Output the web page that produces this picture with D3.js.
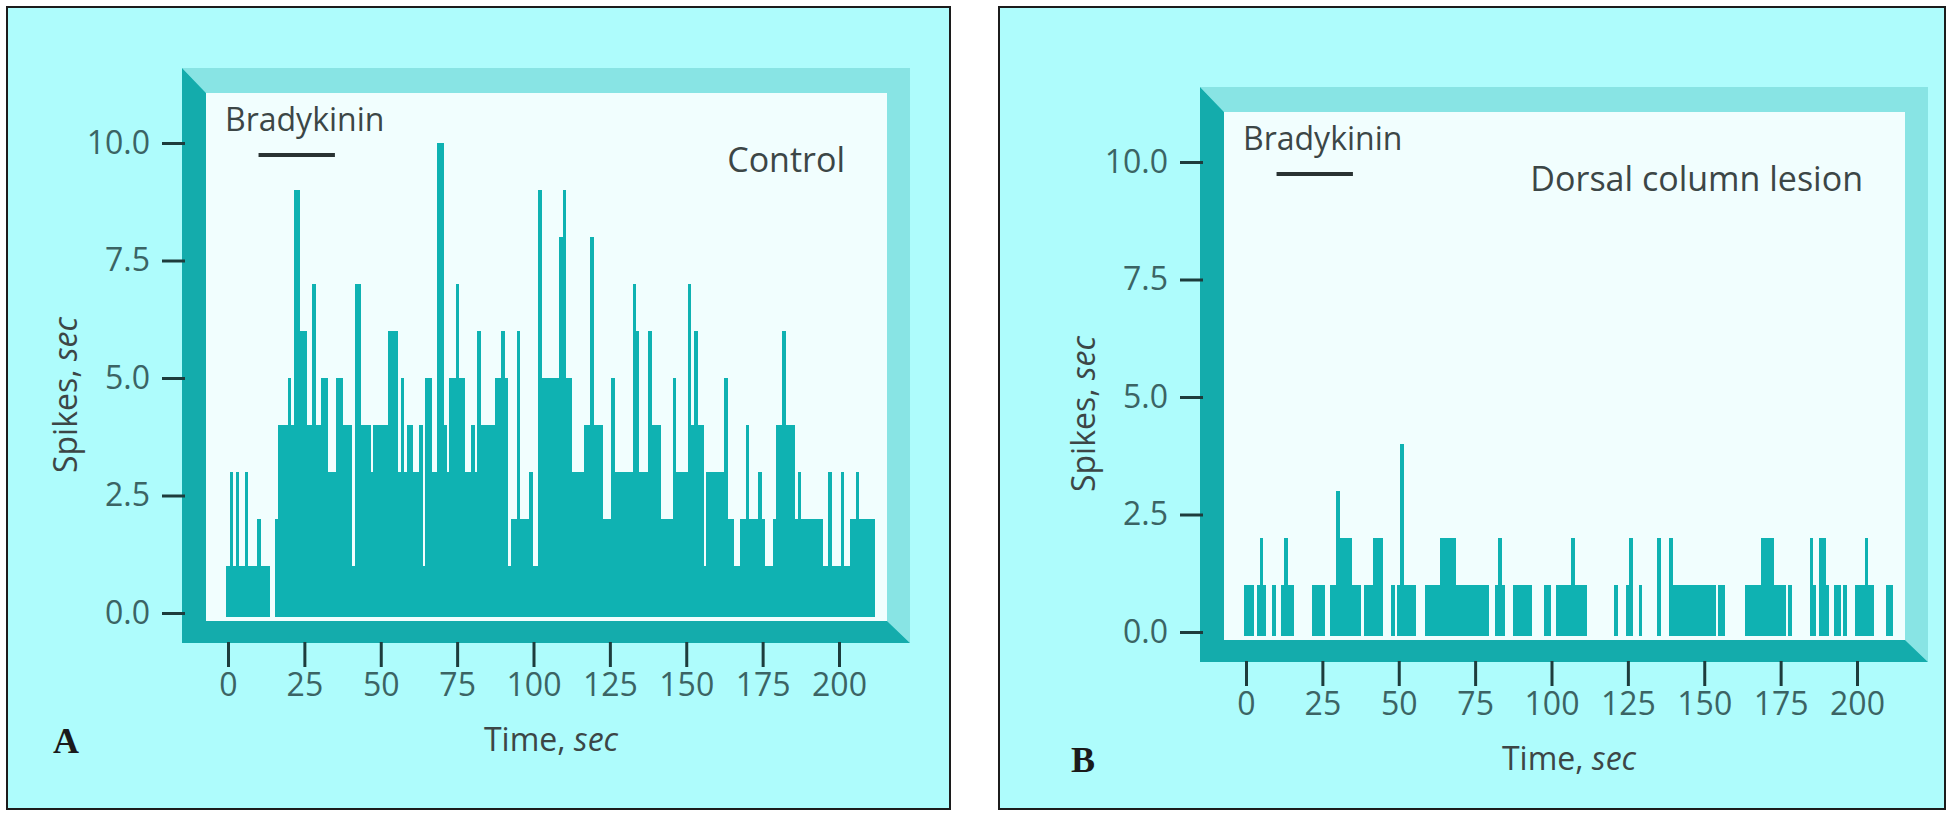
<!DOCTYPE html>
<html><head><meta charset="utf-8">
<script src="https://cdn.jsdelivr.net/npm/d3@7"></script>
<style>body{margin:0;background:#fff}svg{display:block}</style>
</head><body>
<script>
// ---- data (1-s bins, spikes per second), t = 0 .. 211 s ----
const controlSpikes = [
 1,3,1,3,1,1,3,1,1,1,
 2,1,1,1,0,0,2,4,4,4,
 5,4,9,9,6,6,4,4,7,4,
 4,5,5,3,3,3,5,5,4,4,
 4,1,7,7,4,4,4,3,4,4,
 4,4,4,6,6,6,3,5,3,4,
 4,3,3,4,1,5,5,3,3,10,
 10,4,3,5,5,7,5,5,3,3,
 4,3,6,4,4,4,4,4,5,5,
 6,5,1,2,2,6,2,2,2,3,
 1,1,9,5,5,5,5,5,5,8,
 9,5,5,3,3,3,3,4,4,8,
 4,4,4,2,2,2,5,3,3,3,
 3,3,3,7,6,3,3,3,6,4,
 4,4,2,2,2,2,5,3,3,3,
 3,7,4,6,4,4,1,3,3,3,
 3,3,3,5,2,2,1,1,2,2,
 4,2,2,2,3,2,1,1,1,2,
 4,4,6,4,4,4,2,3,2,2,
 2,2,2,2,2,1,1,3,1,1,
 1,3,1,1,2,2,3,2,2,2,
 2,2
];
const lesionSpikes = [
 1,1,1,0,1,2,1,0,0,1,
 0,0,1,2,1,1,0,0,0,0,
 0,0,1,1,1,1,0,0,1,1,
 3,2,2,2,2,1,1,1,0,1,
 1,1,2,2,2,0,0,0,1,0,
 1,4,1,1,1,1,0,0,0,1,
 1,1,1,1,2,2,2,2,2,1,
 1,1,1,1,1,1,1,1,1,1,
 0,0,1,2,1,0,0,0,1,1,
 1,1,1,1,0,0,0,0,1,1,
 0,0,1,1,1,1,1,2,1,1,
 1,1,0,0,0,0,0,0,0,0,
 0,1,0,0,0,1,2,0,0,1,
 0,0,0,0,0,2,0,0,0,2,
 1,1,1,1,1,1,1,1,1,1,
 1,1,1,1,0,1,1,0,0,0,
 0,0,0,0,1,1,1,1,1,2,
 2,2,2,1,1,1,1,0,1,0,
 0,0,0,0,0,2,1,0,2,2,
 1,0,0,1,1,0,1,0,0,0,
 1,1,1,2,1,1,0,0,0,0,
 1,1
];
const xTickValues = [0,25,50,75,100,125,150,175,200];
const yTickValues = [0,2.5,5,7.5,10];
const yTickLabels = ["0.0","2.5","5.0","7.5","10.0"];
const panelLetters = ["A","B"];
const conditionLabels = ["Control","Dorsal column lesion"];
const stimulusName = "Bradykinin";
const stimulusWindow = [10,35];
const xTitle = ["Time, ", "sec"];
const yTitle = ["Spikes, ", "sec"];

// ---- drawing ----
const W = 1950, H = 814;
const FONT = "'Open Sans', 'Noto Sans', sans-serif";
const C = {
  page:"#ffffff", panel:"#aefcfc", border:"#1c1c1c",
  light:"#88e4e4", dark:"#14acac", inner:"#f1fefe", bar:"#0fb2b2",
  tick:"#1d3c3c", tickText:"#3b6464", text:"#3c4646"
};
const svg = d3.select("body").append("svg").attr("width",W).attr("height",H)
  .style("background",C.page);

const panels = [
  {values:controlSpikes, letter:panelLetters[0], label:conditionLabels[0], dx:0,    dy:0,  box:[7,7,943,802]},
  {values:lesionSpikes,  letter:panelLetters[1], label:conditionLabels[1], dx:1018, dy:19, box:[999,7,946,802]}
];

panels.forEach(p => {
  svg.append("rect").attr("x",p.box[0]).attr("y",p.box[1]).attr("width",p.box[2]).attr("height",p.box[3])
    .attr("fill",C.panel).attr("stroke",C.border).attr("stroke-width",2);

  const g = svg.append("g").attr("transform",`translate(${p.dx},${p.dy})`);
  const o = {l:182,t:68,r:910,b:643}, i = {l:206,t:93,r:887,b:621};

  g.append("polygon").attr("fill",C.light)
    .attr("points",[[o.l,o.t],[o.r,o.t],[o.r,o.b],[i.r,i.b],[i.r,i.t],[i.l,i.t]].map(d=>d.join(",")).join(" "));
  g.append("polygon").attr("fill",C.dark)
    .attr("points",[[o.l,o.t],[i.l,i.t],[i.l,i.b],[i.r,i.b],[o.r,o.b],[o.l,o.b]].map(d=>d.join(",")).join(" "));
  g.append("rect").attr("x",i.l).attr("y",i.t).attr("width",i.r-i.l).attr("height",i.b-i.t).attr("fill",C.inner);

  const x = d3.scaleLinear().domain([0,200]).range([228,839]);
  const y = d3.scaleLinear().domain([0,10]).range([613,143]);
  const base = y(0) + 4;
  const bw = x(1) - x(0);

  g.append("g").attr("shape-rendering","crispEdges")
    .selectAll("rect").data(p.values.map((v,t)=>({t,v})).filter(d=>d.v>0)).join("rect")
    .attr("x",d=>x(d.t-0.5)).attr("width",bw+0.6)
    .attr("y",d=>y(d.v)).attr("height",d=>base-y(d.v))
    .attr("fill",C.bar);

  // y axis
  const ya = g.append("g").attr("transform","translate(185,0)")
    .call(d3.axisLeft(y).tickValues(yTickValues).tickFormat((d,k)=>yTickLabels[k]).tickSize(23).tickPadding(12));
  ya.select(".domain").remove();
  ya.selectAll("line").attr("stroke",C.tick).attr("stroke-width",3);
  ya.selectAll("text").attr("fill",C.tickText).style("font-family",FONT).style("font-size","32px");

  // x axis
  const xa = g.append("g").attr("transform",`translate(0,${o.b-1})`)
    .call(d3.axisBottom(x).tickValues(xTickValues).tickFormat(d3.format("d")).tickSize(25).tickPadding(6));
  xa.select(".domain").remove();
  xa.selectAll("line").attr("stroke",C.tick).attr("stroke-width",3);
  xa.selectAll("text").attr("fill",C.tickText).style("font-family",FONT).style("font-size","32px");

  // stimulus marker
  g.append("text").attr("x",225).attr("y",131).attr("fill",C.text)
    .style("font-family",FONT).style("font-size","32px").text(stimulusName);
  g.append("line").attr("x1",x(stimulusWindow[0])).attr("x2",x(stimulusWindow[1]))
    .attr("y1",155).attr("y2",155).attr("stroke","#2a3333").attr("stroke-width",4);

  // condition label
  g.append("text").attr("x",845).attr("y",172).attr("text-anchor","end").attr("fill",C.text)
    .style("font-family",FONT).style("font-size","34px").text(p.label);

  // axis titles
  const xt = g.append("text").attr("x",551).attr("y",751).attr("text-anchor","middle").attr("fill",C.text)
    .style("font-family",FONT).style("font-size","32px");
  xt.append("tspan").text(xTitle[0]);
  xt.append("tspan").style("font-style","italic").text(xTitle[1]);

  const yt = g.append("text").attr("transform","translate(77,395) rotate(-90)").attr("text-anchor","middle")
    .attr("fill",C.text).style("font-family",FONT).style("font-size","32px");
  yt.append("tspan").text(yTitle[0]);
  yt.append("tspan").style("font-style","italic").text(yTitle[1]);

  g.append("text").attr("x",53).attr("y",753).attr("fill","#1a1a1a")
    .style("font-family","'Liberation Serif', serif").style("font-weight","bold").style("font-size","36px").text(p.letter);
});
</script>
</body></html>
